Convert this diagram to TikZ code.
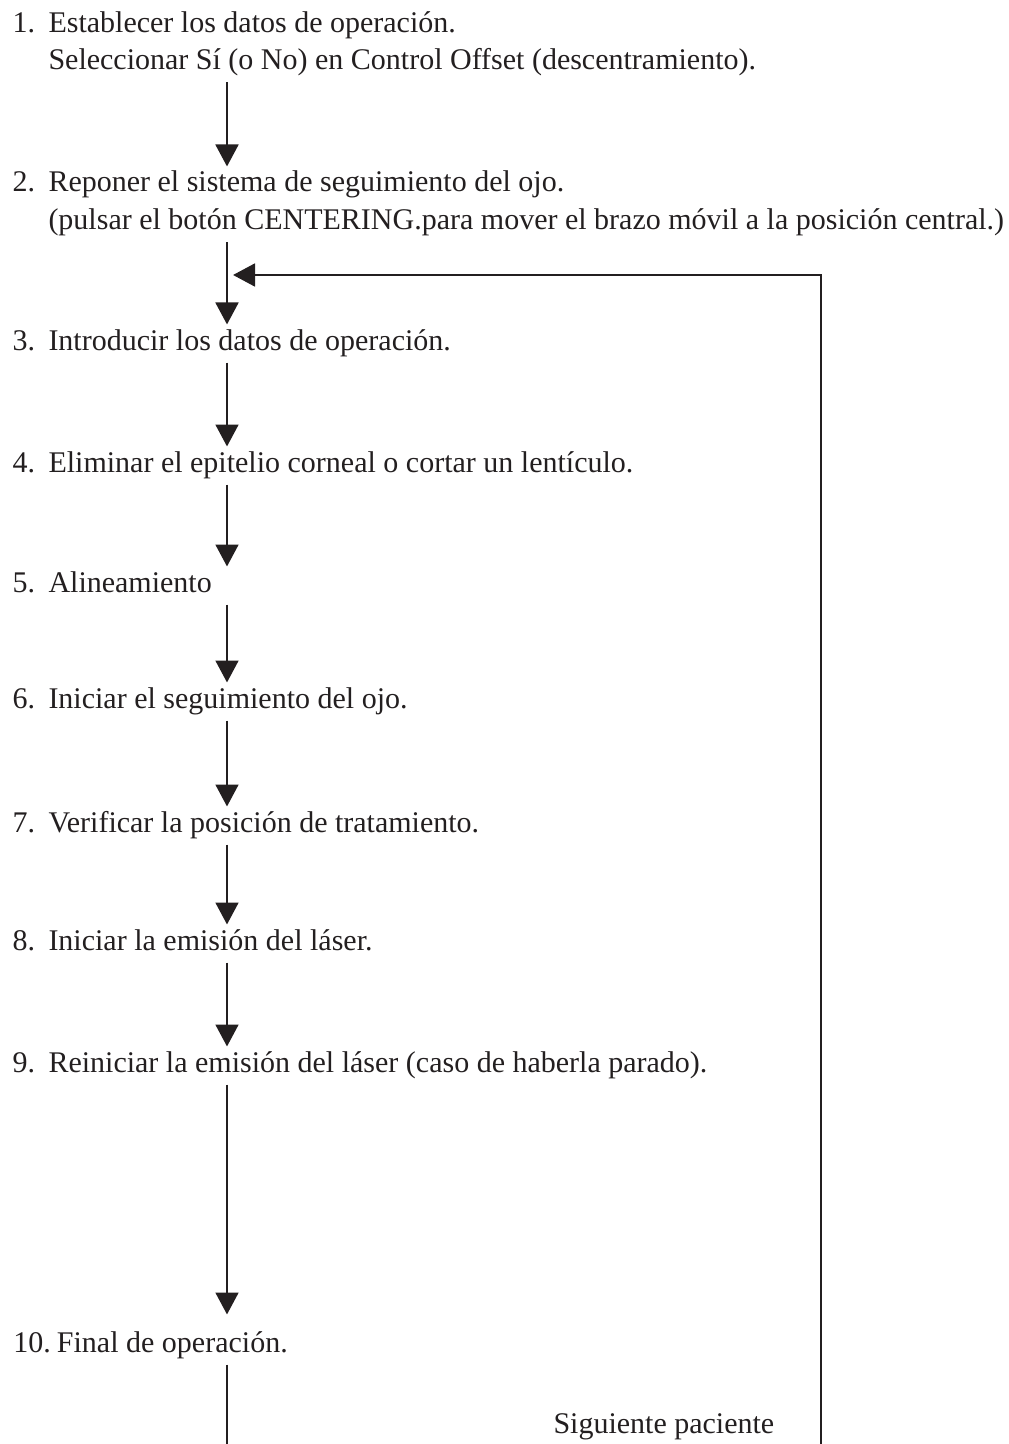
\documentclass[tikz,border=0pt]{standalone}
\usepackage{fontspec}
\setmainfont{Liberation Serif}
\usetikzlibrary{arrows.meta}
\definecolor{ink}{RGB}{35,31,32}
\tikzset{every picture/.style={line width=0.75pt}}
\tikzset{
  stepbox/.style={anchor=base west,inner sep=0pt,text height=18.75pt,text depth=9pt,text=ink,font=\fontsize{22.5}{27}\selectfont},
  flow/.style={draw=ink,line width=2.2pt,-{Triangle[length=16.5pt,width=17pt]}},
  plainline/.style={draw=ink,line width=2.2pt},
}

\begin{document}
\begin{tikzpicture}[x=0.75pt,y=0.75pt,yscale=-1,xscale=1]
\useasboundingbox (0,0) rectangle (1009,1444);
\coordinate (spine) at (227,0);

% Text Node
\node (n1) [stepbox] at (12,33) {1.};
\node (s1) [stepbox] at (48,33) {Establecer los datos de operación.};
\node (s1b) [stepbox] at (48,70) {Seleccionar Sí (o No) en Control Offset (descentramiento).};
% Text Node
\node (n2) [stepbox] at (12,192) {2.};
\node (s2) [stepbox] at (48,192) {Reponer el sistema de seguimiento del ojo.};
\node (s2b) [stepbox] at (48,230) {(pulsar el botón CENTERING.para mover el brazo móvil a la posición central.)};
% Text Node
\node (n3) [stepbox] at (12,350) {3.};
\node (s3) [stepbox] at (48,350) {Introducir los datos de operación.};
% Text Node
\node (n4) [stepbox] at (12,472) {4.};
\node (s4) [stepbox] at (48,472) {Eliminar el epitelio corneal o cortar un lentículo.};
% Text Node
\node (n5) [stepbox] at (12,592) {5.};
\node (s5) [stepbox] at (48,592) {Alineamiento};
% Text Node
\node (n6) [stepbox] at (12,708) {6.};
\node (s6) [stepbox] at (48,708) {Iniciar el seguimiento del ojo.};
% Text Node
\node (n7) [stepbox] at (12,832) {7.};
\node (s7) [stepbox] at (48,832) {Verificar la posición de tratamiento.};
% Text Node
\node (n8) [stepbox] at (12,950) {8.};
\node (s8) [stepbox] at (48,950) {Iniciar la emisión del láser.};
% Text Node
\node (n9) [stepbox] at (12,1072) {9.};
\node (s9) [stepbox] at (48,1072) {Reiniciar la emisión del láser (caso de haberla parado).};
% Text Node
\node (s10) [stepbox] at (13,1352) {10.\kern0.2em Final de operación.};
% Text Node
\node (next) [stepbox] at (553,1433) {Siguiente paciente};

%Straight Lines
\draw [flow] (s1b.south -| spine) -- (s2.north -| spine);
\draw [flow] (s2b.south -| spine) -- (s3.north -| spine);
\draw [flow] (s3.south -| spine) -- (s4.north -| spine);
\draw [flow] (s4.south -| spine) -- (s5.north -| spine);
\draw [flow] (s5.south -| spine) -- (s6.north -| spine);
\draw [flow] (s6.south -| spine) -- (s7.north -| spine);
\draw [flow] (s7.south -| spine) -- (s8.north -| spine);
\draw [flow] (s8.south -| spine) -- (s9.north -| spine);
\draw [flow,shorten >=9pt] (s9.south -| spine) -- (s10.north -| spine);

%Return path
\coordinate (exit) at (227,1444);
\coordinate (back) at (821,1444);
\coordinate (join) at (233,275);
\draw [plainline] (s10.south -| spine) -- (exit);
\draw [flow] (back) |- (join);

\end{tikzpicture}
\end{document}
